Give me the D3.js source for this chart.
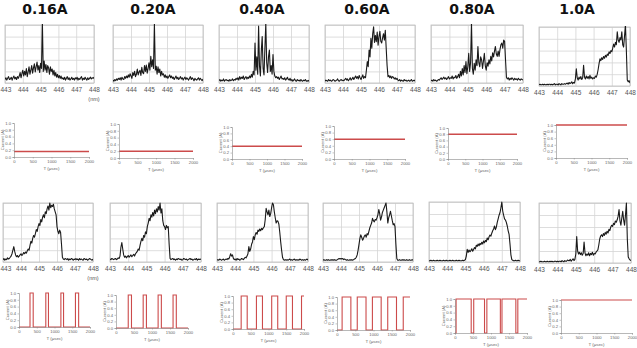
<!DOCTYPE html>
<html>
<head>
<meta charset="utf-8">
<script src="https://cdn.jsdelivr.net/npm/d3@7"></script>
<style>
  body { margin: 0; background: #fff; }
  svg { display: block; }
  text { font-family: "Liberation Sans", Arial, sans-serif; }
</style>
</head>
<body>
<div id="chart"></div>
<script>
/**
 * Data
 */
const titles = ["0.16A", "0.20A", "0.40A", "0.60A", "0.80A", "1.0A"]
const nmTicks = [443, 444, 445, 446, 447, 448]
const gridLevels = [0, 20, 40, 60, 80, 100]
const currentTicks = [0, 0.2, 0.4, 0.6, 0.8, 1.0]
const timeTicks = [0, 500, 1000, 1500, 2000]

// DC current level for each column (A)
const dcLevels = [0.16, 0.20, 0.40, 0.60, 0.80, 1.0]

// pulsed current: [start, end] in usec where current = 1.0 A
const pulses = [
    [[310, 400], [755, 830], [1180, 1255], [1590, 1680]],
    [[340, 430], [755, 845], [1170, 1260], [1585, 1675]],
    [[230, 400], [660, 830], [1090, 1260], [1500, 1675], [1930, 2000]],
    [[140, 380], [555, 795], [970, 1210], [1390, 1630], [1815, 2000]],
    [[30, 450], [520, 820], [885, 1260], [1305, 1690], [1745, 2000]],
    [[0, 2000]]
]

// spectra, 443 -> 448 nm, relative intensity (%)
const spectraDC = [
    [6,9,5,8,11,6,7,10,5,9,12,7,10,6,11,8,
     12,18,9,16,22,12,20,14,25,11,19,28,15,22,
     30,17,26,33,19,28,36,22,30,18,34,25,
     105,20,
     38,22,32,18,30,26,15,28,20,24,14,22,12,
     18,10,15,9,13,8,12,7,
     9,6,10,5,8,11,6,9,5,7,10,6,8,5,9,7,10,5,8,6,9,11,5,8,6,10,7,5,9,6,8,10,7,9,8,10],
    [5,3,6,4,7,5,8,6,9,5,10,7,6,11,8,12,
     9,14,10,16,12,8,18,13,20,11,15,24,14,19,
     22,13,27,18,16,30,20,31,17,25,
     35,22,46,28,40,25,
     102,
     22,29,15,28,18,24,12,20,14,
     16,10,14,9,12,8,11,14,9,12,
     8,10,6,9,12,7,10,6,8,11,7,9,5,8,10,6,9,7,5,8,11,6,9,7,4,8,6,5,7,9,5,8,6,4,7],
    [4,6,3,5,4,7,3,5,6,4,5,3,6,4,5,7,4,6,5,8,
     6,9,5,11,7,10,8,12,6,9,11,7,10,8,12,9,
     15,10,20,14,
     69,22,45,15,
     98,30,12,55,80,25,14,
     60,103,35,18,45,57,20,30,15,
     49,20,12,9,
     11,8,10,6,9,12,7,8,6,9,5,7,10,6,5,8,
     4,6,3,5,7,4,3,6,4,5,3,6,4,3,5,4,6,3,4,3,5],
    [3,5,4,3,6,4,5,3,4,6,5,3,4,5,7,4,3,5,6,4,5,4,6,8,5,7,4,6,9,5,
     7,10,6,9,12,8,11,7,13,9,6,10,14,8,11,9,
     22,37,28,57,45,77,60,85,97,70,82,71,88,65,80,89,72,69,78,85,74,91,60,30,11,
     13,9,12,8,11,10,7,9,6,8,
     5,4,6,3,5,4,3,6,4,5,3,4,5,3,4,6,3,4,5,3],
    [4,5,3,6,4,5,3,4,6,5,
     7,9,6,8,10,7,9,6,8,11,7,9,8,12,7,10,9,13,8,11,
     15,9,20,12,25,14,30,18,
     37,16,28,51,20,35,104,25,15,34,22,40,30,63,35,28,45,40,25,38,51,30,22,35,29,40,33,46,38,52,45,55,63,50,46,55,46,58,66,69,60,74,72,40,10,
     7,9,5,8,6,9,7,5,8,6,7,5,8,6,5,7,6,5],
    [2,3,2,2,3,2,3,2,2,3,2,3,3,2,3,2,3,4,2,3,3,2,4,3,2,4,3,3,4,3,
     4,5,3,6,4,5,7,4,6,5,
     12,29,14,10,15,12,16,11,14,35,15,12,17,13,16,12,18,13,15,12,14,13,17,15,20,28,38,46,43,48,45,50,47,52,49,54,52,58,55,60,58,64,71,66,74,70,92,78,74,82,78,92,70,66,85,104,60,10,7,9,5]
]

const spectraPulsed = [
    [4,6,3,5,4,7,5,6,8,10,
     14,20,26,18,12,9,11,8,
     10,12,14,11,13,16,14,17,15,19,22,20,
     28,35,32,40,45,42,48,55,52,60,
     65,62,72,68,76,80,75,85,82,90,
     95,88,100,92,96,94,98,90,85,80,
     60,52,48,54,50,30,8,5,4,6,
     5,4,6,3,5,4,6,5,3,5,4,6,4,5,3,6,4,5,4,3,6,5,4,5,3,4,6,5,4,3,5],
    [5,4,6,5,4,5,6,4,5,7,6,10,
     25,33,22,12,8,10,
     7,9,11,8,10,12,9,11,13,10,14,16,
     18,22,20,28,35,40,36,45,42,51,
     48,60,66,74,70,80,76,84,78,88,
     82,90,85,94,88,100,83,90,70,62,
     60,55,62,58,60,30,
     6,4,5,6,4,5,3,5,4,6,5,4,5,3,4,6,5,4,5,3,4,5,6,4,5,3,4,5,4,6,3,5,4,5,4],
    [3,4,3,5,4,3,4,5,3,4,5,4,6,5,
     9,14,10,12,6,4,
     5,3,6,4,5,3,4,6,5,4,6,8,7,10,
     14,26,18,22,30,34,
     43,38,46,50,47,54,52,56,53,57,
     55,58,60,72,91,85,80,88,77,82,
     92,100,97,85,75,66,70,69,64,50,
     34,20,8,4,3,4,3,
     4,3,4,5,3,4,3,4,5,3,4,3,4,3,5,4,3,4,3,4,3,4,5,3],
    [3,4,3,3,4,3,4,3,3,4,3,4,3,4,3,3,4,5,
     6,5,6,5,6,4,5,4,
     3,4,3,3,4,3,4,3,4,5,6,8,12,
     20,30,40,46,42,37,40,44,46,42,48,
     46,52,58,62,66,74,70,68,72,71,
     75,80,89,82,71,76,84,88,92,96,
     100,85,66,75,80,86,78,70,63,65,
     60,30,6,3,3,
     4,3,3,4,3,4,3,3,4,3,3,4,3,3,4,3],
    [2,2,3,2,2,3,2,2,2,3,2,2,3,2,2,2,3,2,2,3,2,2,2,3,2,2,3,2,2,2,3,2,2,3,2,2,2,3,2,3,4,
     10,21,16,20,17,19,22,18,21,24,22,28,26,30,27,31,29,33,30,35,32,36,34,40,37,42,45,43,48,52,55,60,54,58,66,72,78,82,90,100,85,78,72,70,66,60,52,46,30,12,4,
     3,2,2,3,2,2,3,2,2],
    [2,2,3,2,2,2,3,2,2,3,2,2,3,2,3,2,2,3,3,2,3,2,3,3,2,4,3,2,4,3,
     3,5,4,4,6,3,5,7,4,6,
     15,44,20,15,18,14,17,13,16,35,17,12,15,13,17,12,16,14,18,13,16,15,18,20,22,30,40,45,47,44,49,46,51,48,53,50,56,54,60,63,61,66,64,70,68,72,78,89,70,63,75,86,72,63,80,100,40,10,7,5,4]
]

/**
 * Layout (pixel boxes of each small panel)
 */
const specBoxesTop = [
    [5, 94, 25, 83], [113, 203, 25, 83], [219, 309, 25, 83],
    [325, 415, 25, 83], [431, 523, 25, 83], [539, 630, 27, 86]
]
const specBoxesBottom = [
    [3, 93, 203, 262], [110, 201, 203, 262], [217, 308, 203, 262],
    [323, 413, 203, 262], [429, 520, 202, 262], [539, 631, 203, 263]
]
const curBoxesTop = [
    [14, 89, 123, 157], [119, 193, 124, 158], [232, 302, 127, 159],
    [334, 405, 126, 159], [448, 517, 128, 159], [556, 627, 125, 158]
]
const curBoxesBottom = [
    [19, 90, 293, 327], [116, 188, 295, 328], [233, 304, 296, 329],
    [337, 410, 297, 330], [455, 527, 299, 333], [561, 632, 300, 333]
]
const titleX = [45, 153, 262, 367, 472, 577]

const W = 637, H = 348
const redLine = "#cc4b4b"

const svg = d3.select("#chart")
    .append("svg")
        .attr("width", W)
        .attr("height", H)

const defs = svg.append("defs")

// titles
svg.append("g")
    .selectAll("text")
    .data(titles)
    .join("text")
        .attr("x", (d, i) => titleX[i])
        .attr("y", 14)
        .attr("text-anchor", "middle")
        .style("font-family", "'DejaVu Sans', sans-serif")
        .style("font-weight", "bold")
        .style("font-size", "14px")
        .style("fill", "#111")
        .text(d => d)

let clipId = 0

function drawSpectrum(box, values, showUnit) {
    const [x0, x1, y0, y1] = box
    const g = svg.append("g")

    const x = d3.scaleLinear().domain([443, 448]).range([x0, x1])
    const y = d3.scaleLinear().domain([0, 100]).range([y1, y0])

    // horizontal grid
    g.append("g")
        .attr("transform", "translate(" + x0 + ",0)")
        .call(d3.axisLeft(y).tickValues(gridLevels).tickSize(-(x1 - x0)).tickFormat(""))
        .call(a => a.select(".domain").remove())
        .call(a => a.selectAll("line").attr("stroke", "#d4d4d4").attr("stroke-width", 0.8))

    // vertical grid + labels
    g.append("g")
        .attr("transform", "translate(0," + y1 + ")")
        .call(d3.axisBottom(x).tickValues(nmTicks).tickSize(-(y1 - y0)).tickPadding(4).tickFormat(d3.format("d")))
        .call(a => a.select(".domain").remove())
        .call(a => a.selectAll("line").attr("stroke", "#d4d4d4").attr("stroke-width", 0.8))
        .call(a => a.selectAll("text")
            .style("font-size", "6.5px")
            .style("fill", "#555")
            .style("font-family", "'Liberation Sans', Arial, sans-serif"))
        // keep a label that would run off the page's left edge inside it
        .call(a => a.selectAll("text")
            .filter(t => x(t) < 6)
            .attr("text-anchor", "start")
            .attr("x", -x0))

    // frame
    g.append("rect")
        .attr("x", x0).attr("y", y0)
        .attr("width", x1 - x0).attr("height", y1 - y0)
        .attr("fill", "none")
        .attr("stroke", "#bdbdbd")
        .attr("stroke-width", 0.8)

    const id = "clip" + (clipId++)
    defs.append("clipPath").attr("id", id)
        .append("rect")
        .attr("x", x0).attr("y", y0 - 1)
        .attr("width", x1 - x0).attr("height", y1 - y0 + 1)

    const n = values.length
    const line = d3.line()
        .x((d, i) => x(443 + 5 * i / (n - 1)))
        .y(d => y(d))

    g.append("path")
        .datum(values)
        .attr("clip-path", "url(#" + id + ")")
        .attr("d", line)
        .attr("fill", "none")
        .attr("stroke", "#1a1a1a")
        .attr("stroke-width", 1.1)
        .attr("stroke-linejoin", "round")

    if (showUnit) {
        g.append("text")
            .attr("x", x1)
            .attr("y", y1 + 18)
            .attr("text-anchor", "middle")
            .style("font-size", "5.5px")
            .style("fill", "#555")
            .text("(nm)")
    }
}

function drawCurrent(box, points, width) {
    const [x0, x1, y0, y1] = box
    const g = svg.append("g")

    const x = d3.scaleLinear().domain([0, 2000]).range([x0, x1])
    const y = d3.scaleLinear().domain([0, 1]).range([y1, y0])

    // data line first, axes on top (like the original plots)
    const line = d3.line().x(d => x(d[0])).y(d => y(d[1]))
    g.append("path")
        .datum(points)
        .attr("d", line)
        .attr("fill", "none")
        .attr("stroke", redLine)
        .attr("stroke-width", width)

    g.append("g")
        .attr("transform", "translate(" + x0 + ",0)")
        .call(d3.axisLeft(y).tickValues(currentTicks).tickSize(1.5).tickPadding(1.5).tickFormat(d3.format(".1f")))
        .call(a => a.select(".domain").attr("stroke", "#888").attr("stroke-width", 0.6))
        .call(a => a.selectAll("line").attr("stroke", "#888").attr("stroke-width", 0.5))
        .call(a => a.selectAll("text").style("font-size", "4.2px").style("fill", "#666"))

    g.append("g")
        .attr("transform", "translate(0," + y1 + ")")
        .call(d3.axisBottom(x).tickValues(timeTicks).tickSize(1.5).tickPadding(1.5).tickFormat(d3.format("d")))
        .call(a => a.select(".domain").attr("stroke", "#888").attr("stroke-width", 0.6))
        .call(a => a.selectAll("line").attr("stroke", "#888").attr("stroke-width", 0.5))
        .call(a => a.selectAll("text").style("font-size", "4.2px").style("fill", "#666"))

    g.append("text")
        .attr("transform", "translate(" + (x0 - 10) + "," + ((y0 + y1) / 2) + ") rotate(-90)")
        .attr("text-anchor", "middle")
        .style("font-size", "4.2px")
        .style("fill", "#666")
        .text("Current (A)")

    g.append("text")
        .attr("x", (x0 + x1) / 2)
        .attr("y", y1 + 13)
        .attr("text-anchor", "middle")
        .style("font-size", "4.4px")
        .style("fill", "#666")
        .text("T (μsec)")
}

function pulsePoints(list) {
    const pts = []
    list.forEach(([s, e], k) => {
        if (k === 0 && s > 0) pts.push([0, 0])
        if (s > 0) pts.push([s, 0])
        pts.push([s, 1])
        pts.push([e, 1])
        if (e < 2000) pts.push([e, 0])
    })
    const last = list[list.length - 1]
    if (last[1] < 2000) pts.push([2000, 0])
    return pts
}

specBoxesTop.forEach((b, i) => drawSpectrum(b, spectraDC[i], i === 0))
specBoxesBottom.forEach((b, i) => drawSpectrum(b, spectraPulsed[i], i === 0))
curBoxesTop.forEach((b, i) => drawCurrent(b, [[0, dcLevels[i]], [2000, dcLevels[i]]], 1.4))
curBoxesBottom.forEach((b, i) => drawCurrent(b, pulsePoints(pulses[i]), 1.1))
</script>
</body>
</html>
